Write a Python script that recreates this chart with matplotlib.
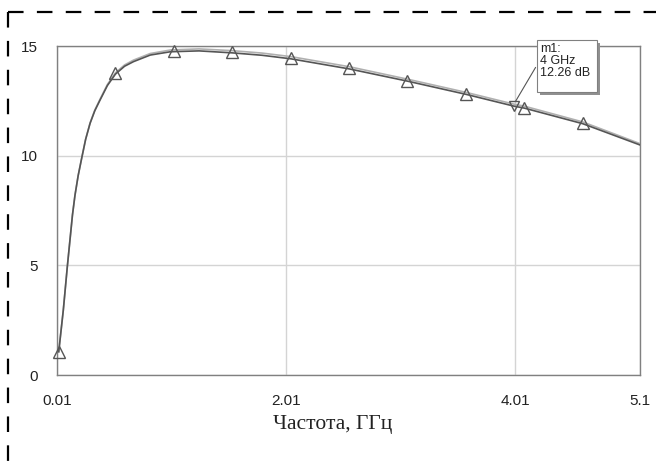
import matplotlib
matplotlib.use("Agg")
import matplotlib.pyplot as plt
from matplotlib.lines import Line2D
from matplotlib.patches import Rectangle

# curve (GHz, dB)
freq = [0.025, 0.065, 0.10, 0.124, 0.145, 0.167, 0.195, 0.226, 0.26, 0.299,
        0.34, 0.386, 0.45, 0.52, 0.60, 0.678, 0.824, 1.0, 1.25, 1.54, 1.80,
        2.05, 2.56, 3.07, 3.58, 4.00, 4.09, 4.60, 5.10]
gain = [1.06, 2.96, 4.94, 6.2, 7.3, 8.2, 9.1, 9.9, 10.75, 11.48,
        12.05, 12.54, 13.2, 13.72, 14.08, 14.29, 14.59, 14.74, 14.78, 14.69,
        14.58, 14.42, 13.96, 13.4, 12.8, 12.26, 12.17, 11.46, 10.49]
gain2 = [1.06, 2.96, 4.94, 6.2, 7.3, 8.2, 9.1, 9.9, 10.75, 11.5,
         12.08, 12.58, 13.25, 13.78, 14.14, 14.36, 14.66, 14.82, 14.87, 14.79,
         14.68, 14.52, 14.06, 13.49, 12.89, 12.35, 12.26, 11.54, 10.55]

# triangle markers
mk_f = [0.025, 0.52, 1.03, 1.54, 2.05, 2.56, 3.07, 3.58, 4.09, 4.60]
mk_g = [1.06, 13.77, 14.79, 14.71, 14.44, 13.98, 13.42, 12.81, 12.18, 11.47]

m1_f, m1_g = 4.0, 12.26

xticks = [0.01, 2.01, 4.01, 5.1]
xtick_labels = ["0.01", "2.01", "4.01", "5.1"]
yticks = [0, 5, 10, 15]

fig = plt.figure(figsize=(6.56, 4.62), dpi=100)
ax = fig.add_axes([0.0869, 0.1883, 0.8887, 0.712])

ax.plot(freq, gain2, color="#b0b0b0", lw=1.2, zorder=3)
ax.plot(freq, gain, color="#555555", lw=1.2, zorder=4)
ax.plot(mk_f, mk_g, ls="none", marker="^", ms=8.5, mfc="none",
        mec="#555555", mew=1.0, zorder=5, clip_on=False)
ax.plot([m1_f], [m1_g], ls="none", marker="v", ms=7, mfc="none",
        mec="#555555", mew=1.0, zorder=5)

ax.set_xlim(0.01, 5.1)
ax.set_ylim(0, 15)
ax.set_xticks(xticks)
ax.set_xticklabels(xtick_labels)
ax.set_yticks(yticks)
ax.tick_params(length=0, labelsize=11, colors="#222222")
ax.tick_params(axis="x", pad=14)
ax.tick_params(axis="y", pad=14)
for lab in ax.get_xticklabels() + ax.get_yticklabels():
    lab.set_family("Liberation Sans")
ax.grid(True, color="#d4d4d4", lw=1)
for s in ax.spines.values():
    s.set_color("#808080")
    s.set_linewidth(1.0)

ax.set_xlabel("Частота, ГГц", family="Liberation Serif", fontsize=15.5,
              color="#222222")
ax.xaxis.set_label_coords(0.473, -0.122)

# marker m1 callout box
bx0, by1 = 537 / 656, 1 - 40 / 462
bw, bh = 60 / 656, 52 / 462
fig.patches.append(Rectangle((bx0 + 3 / 656, by1 - bh - 3 / 462), bw, bh,
                             transform=fig.transFigure, fc="#909090",
                             ec="none", zorder=6))
fig.patches.append(Rectangle((bx0, by1 - bh), bw, bh, transform=fig.transFigure,
                             fc="white", ec="#808080", lw=0.8, zorder=7))
fig.text(bx0 + 3 / 656, by1 - 3 / 462, "m1:\n4 GHz\n12.26 dB",
         family="Liberation Sans", fontsize=9, va="top", ha="left",
         linespacing=1.0, color="#222222", zorder=8)
ax.annotate("", xy=(m1_f, m1_g + 0.1), xycoords="data",
            xytext=(bx0, by1 - 25 / 462), textcoords="figure fraction",
            arrowprops=dict(arrowstyle="-", color="#555555", lw=0.8))

# dashed frame around the figure
dash = dict(color="black", lw=1.6, ls=(0, (7, 6)))
fig.add_artist(Line2D([8 / 656, 1], [1 - 12 / 462, 1 - 12 / 462], **dash))
fig.add_artist(Line2D([8 / 656, 8 / 656], [1 - 12 / 462, 0], **dash))

fig.savefig("out.png", dpi=100)
